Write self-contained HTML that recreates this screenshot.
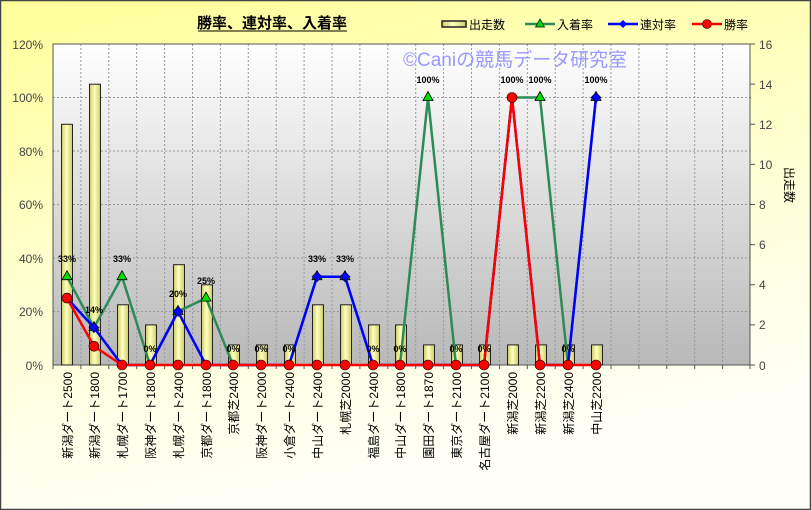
<!DOCTYPE html>
<html><head><meta charset="utf-8"><style>
html,body{margin:0;padding:0}
body{width:811px;height:510px;overflow:hidden}
svg{display:block;font-family:"Liberation Sans","Noto Sans CJK JP",sans-serif}
</style></head><body>
<svg width="811" height="510" viewBox="0 0 811 510" xmlns="http://www.w3.org/2000/svg">
<defs>
<linearGradient id="bg" x1="0" y1="0" x2="0.3" y2="1"><stop offset="0" stop-color="#ffff99"/><stop offset="0.6" stop-color="#ffffd8"/><stop offset="1" stop-color="#fffff8"/></linearGradient>
<linearGradient id="pa" x1="0" y1="0" x2="0" y2="1"><stop offset="0" stop-color="#ffffff"/><stop offset="1" stop-color="#b8b8b8"/></linearGradient>
<linearGradient id="bar" x1="0" y1="0" x2="1" y2="0"><stop offset="0" stop-color="#cccc66"/><stop offset="0.45" stop-color="#ffffc0"/><stop offset="1" stop-color="#cccc66"/></linearGradient>
</defs>
<rect x="0" y="0" width="811" height="510" fill="url(#bg)"/>
<rect x="0.5" y="0.5" width="810" height="509" fill="none" stroke="#444" stroke-width="1.5"/>
<rect x="53" y="44" width="697" height="321" fill="url(#pa)"/>
<g stroke="#999" stroke-width="1" stroke-dasharray="2,2">
<path d="M53 97.5H750M53 151H750M53 204.5H750M53 258H750M53 311.5H750"/>
<path d="M80.9 44V365M108.8 44V365M136.7 44V365M164.6 44V365M192.5 44V365M220.4 44V365M248.3 44V365M276.2 44V365M304.1 44V365M332 44V365M359.9 44V365M387.8 44V365M415.7 44V365M443.6 44V365M471.5 44V365M499.4 44V365M527.3 44V365M555.2 44V365M583.1 44V365M611 44V365M638.9 44V365M666.8 44V365M694.7 44V365M722.6 44V365"/>
</g>
<rect x="53" y="44" width="697" height="321" fill="none" stroke="#555" stroke-width="1"/>
<g stroke="#555"><path d="M750 44h5M750 84.1h5M750 124.3h5M750 164.4h5M750 204.5h5M750 244.6h5M750 284.8h5M750 324.9h5M750 365h5"/>
<path d="M53 365v4M80.9 365v4M108.8 365v4M136.7 365v4M164.6 365v4M192.5 365v4M220.4 365v4M248.3 365v4M276.2 365v4M304.1 365v4M332 365v4M359.9 365v4M387.8 365v4M415.7 365v4M443.6 365v4M471.5 365v4M499.4 365v4M527.3 365v4M555.2 365v4M583.1 365v4M611 365v4M638.9 365v4M666.8 365v4M694.7 365v4M722.6 365v4M750 365v4"/></g>
<text x="403" y="66" font-size="19" fill="#9999ff">©Caniの競馬データ研究室</text>
<g fill="url(#bar)" stroke="#222" stroke-width="1">
<rect x="61.5" y="124.3" width="11" height="240.7"/>
<rect x="89.5" y="84.2" width="11" height="280.8"/>
<rect x="117.5" y="304.8" width="11" height="60.2"/>
<rect x="145.5" y="324.9" width="11" height="40.1"/>
<rect x="173.5" y="264.7" width="11" height="100.3"/>
<rect x="201.5" y="284.8" width="11" height="80.2"/>
<rect x="228.5" y="344.9" width="11" height="20.1"/>
<rect x="256.5" y="344.9" width="11" height="20.1"/>
<rect x="284.5" y="344.9" width="11" height="20.1"/>
<rect x="312.5" y="304.8" width="11" height="60.2"/>
<rect x="340.5" y="304.8" width="11" height="60.2"/>
<rect x="368.5" y="324.9" width="11" height="40.1"/>
<rect x="395.5" y="324.9" width="11" height="40.1"/>
<rect x="423.5" y="344.9" width="11" height="20.1"/>
<rect x="451.5" y="344.9" width="11" height="20.1"/>
<rect x="479.5" y="344.9" width="11" height="20.1"/>
<rect x="507.5" y="344.9" width="11" height="20.1"/>
<rect x="535.5" y="344.9" width="11" height="20.1"/>
<rect x="563.5" y="344.9" width="11" height="20.1"/>
<rect x="591.5" y="344.9" width="11" height="20.1"/>
</g>
<polyline fill="none" stroke="#2e8b57" stroke-width="2.5" points="67,276.7 94,327.6 122,276.7 150,365 178,311.5 206,298.1 233,365 261,365 289,365 317,276.7 345,276.7 373,365 400,365 428,97.5 456,365 484,365 512,97.5 540,97.5 568,365 596,97.5"/>
<g fill="#00dd00" stroke="#000" stroke-width="0.8">
<path d="M67 270.7l5 9h-10z"/><path d="M94 321.6l5 9h-10z"/><path d="M122 270.7l5 9h-10z"/><path d="M178 305.5l5 9h-10z"/><path d="M206 292.1l5 9h-10z"/><path d="M317 270.7l5 9h-10z"/><path d="M345 270.7l5 9h-10z"/><path d="M428 91.5l5 9h-10z"/><path d="M540 91.5l5 9h-10z"/><path d="M596 91.5l5 9h-10z"/>
</g>
<polyline fill="none" stroke="#0000ff" stroke-width="2.5" points="67,298.1 94,327.6 122,365 150,365 178,311.5 206,365 233,365 261,365 289,365 317,276.7 345,276.7 373,365 400,365 428,365 456,365 484,365 512,97.5 540,365 568,365 596,97.5"/>
<g fill="#0000ff" stroke="#000" stroke-width="0.6">
<path d="M94 322.6l5 5-5 5-5-5z"/><path d="M178 306.5l5 5-5 5-5-5z"/><path d="M317 271.7l5 5-5 5-5-5z"/><path d="M345 271.7l5 5-5 5-5-5z"/><path d="M596 92.5l5 5-5 5-5-5z"/>
</g>
<polyline fill="none" stroke="#ff0000" stroke-width="2.5" points="67,298.1 94,346.3 122,365 150,365 178,365 206,365 233,365 261,365 289,365 317,365 345,365 373,365 400,365 428,365 456,365 484,365 512,97.5 540,365 568,365 596,365"/>
<g fill="#ff0000" stroke="#000" stroke-width="0.6">
<circle cx="67" cy="298.1" r="5"/><circle cx="94" cy="346.3" r="5"/><circle cx="122" cy="365" r="5"/><circle cx="150" cy="365" r="5"/><circle cx="178" cy="365" r="5"/><circle cx="206" cy="365" r="5"/><circle cx="233" cy="365" r="5"/><circle cx="261" cy="365" r="5"/><circle cx="289" cy="365" r="5"/><circle cx="317" cy="365" r="5"/><circle cx="345" cy="365" r="5"/><circle cx="373" cy="365" r="5"/><circle cx="400" cy="365" r="5"/><circle cx="428" cy="365" r="5"/><circle cx="456" cy="365" r="5"/><circle cx="484" cy="365" r="5"/><circle cx="512" cy="97.5" r="5"/><circle cx="540" cy="365" r="5"/><circle cx="568" cy="365" r="5"/><circle cx="596" cy="365" r="5"/>
</g>
<g font-size="9" font-weight="bold" fill="#000" text-anchor="middle">
<text x="67" y="262">33%</text><text x="94" y="313">14%</text><text x="122" y="262">33%</text><text x="150" y="352">0%</text><text x="178" y="297">20%</text><text x="206" y="284">25%</text><text x="233" y="352">0%</text><text x="261" y="352">0%</text><text x="289" y="352">0%</text><text x="317" y="262">33%</text><text x="345" y="262">33%</text><text x="373" y="352">0%</text><text x="400" y="352">0%</text><text x="428" y="83">100%</text><text x="456" y="352">0%</text><text x="484" y="352">0%</text><text x="512" y="83">100%</text><text x="540" y="83">100%</text><text x="568" y="352">0%</text><text x="596" y="83">100%</text>
</g>
<g font-size="12" fill="#444" text-anchor="end">
<text x="43" y="49">120%</text><text x="43" y="102">100%</text><text x="43" y="156">80%</text><text x="43" y="209">60%</text><text x="43" y="263">40%</text><text x="43" y="316">20%</text><text x="43" y="370">0%</text>
</g>
<g font-size="12" fill="#444">
<text x="759" y="49">16</text><text x="759" y="89">14</text><text x="759" y="129">12</text><text x="759" y="169">10</text><text x="759" y="209">8</text><text x="759" y="249">6</text><text x="759" y="289">4</text><text x="759" y="329">2</text><text x="759" y="370">0</text>
</g>
<text transform="translate(785,185) rotate(90)" font-size="12" fill="#000" text-anchor="middle">出走数</text>
<g font-size="12" fill="#000" text-anchor="end">
<text transform="translate(72,372) rotate(-90)">新潟ダート2500</text>
<text transform="translate(99,372) rotate(-90)">新潟ダート1800</text>
<text transform="translate(127,372) rotate(-90)">札幌ダート1700</text>
<text transform="translate(155,372) rotate(-90)">阪神ダート1800</text>
<text transform="translate(183,372) rotate(-90)">札幌ダート2400</text>
<text transform="translate(211,372) rotate(-90)">京都ダート1800</text>
<text transform="translate(238,372) rotate(-90)">京都芝2400</text>
<text transform="translate(266,372) rotate(-90)">阪神ダート2000</text>
<text transform="translate(294,372) rotate(-90)">小倉ダート2400</text>
<text transform="translate(322,372) rotate(-90)">中山ダート2400</text>
<text transform="translate(350,372) rotate(-90)">札幌芝2000</text>
<text transform="translate(378,372) rotate(-90)">福島ダート2400</text>
<text transform="translate(405,372) rotate(-90)">中山ダート1800</text>
<text transform="translate(433,372) rotate(-90)">園田ダート1870</text>
<text transform="translate(461,372) rotate(-90)">東京ダート2100</text>
<text transform="translate(489,372) rotate(-90)">名古屋ダート2100</text>
<text transform="translate(517,372) rotate(-90)">新潟芝2000</text>
<text transform="translate(545,372) rotate(-90)">新潟芝2200</text>
<text transform="translate(573,372) rotate(-90)">新潟芝2400</text>
<text transform="translate(601,372) rotate(-90)">中山芝2200</text>
</g>
<text x="272" y="28" font-size="15" font-weight="bold" text-anchor="middle" fill="#000">勝率、連対率、入着率</text>
<line x1="198" y1="31" x2="347" y2="31" stroke="#000" stroke-width="1"/>
<rect x="442" y="21" width="24" height="6" fill="url(#bar)" stroke="#222" stroke-width="1.5"/>
<text x="469" y="29" font-size="12">出走数</text>
<line x1="525" y1="24" x2="555" y2="24" stroke="#2e8b57" stroke-width="2.5"/>
<path d="M540 19l4.5 8h-9z" fill="#00dd00" stroke="#000" stroke-width="0.7"/>
<text x="557" y="29" font-size="12">入着率</text>
<line x1="608" y1="24" x2="638" y2="24" stroke="#0000ff" stroke-width="2.5"/>
<path d="M623 20l4 4-4 4-4-4z" fill="#0000ff"/>
<text x="640" y="29" font-size="12">連対率</text>
<line x1="692" y1="24" x2="722" y2="24" stroke="#ff0000" stroke-width="2.5"/>
<circle cx="707" cy="24" r="4.5" fill="#ff0000" stroke="#000" stroke-width="0.6"/>
<text x="724" y="29" font-size="12">勝率</text>
</svg>
</body></html>
